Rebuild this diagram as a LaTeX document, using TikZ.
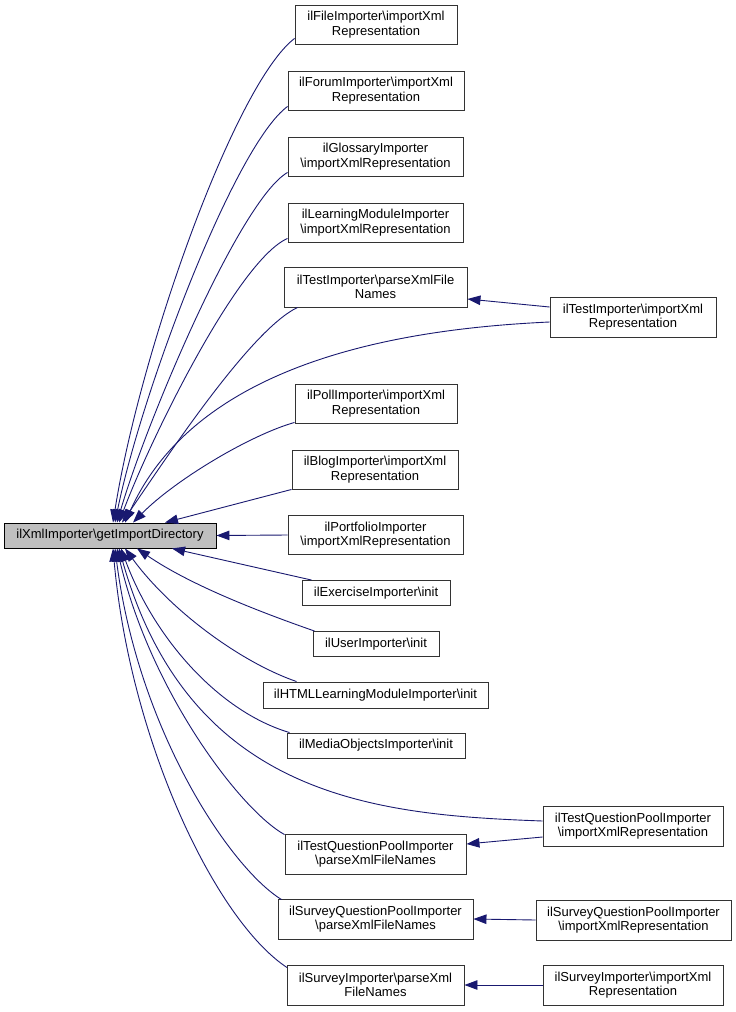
\documentclass[tikz,border=0pt]{standalone}
\usepackage{fontspec}
\setmainfont{Liberation Sans}
\usetikzlibrary{arrows.meta,calc}
\definecolor{edgec}{HTML}{191970}
\definecolor{mainfill}{HTML}{BFBFBF}
\newcommand{\bs}{\textbackslash}
\begin{document}
\begin{tikzpicture}[x=1pt,y=-1pt,
  box/.style={draw=black!80, line width=0.9pt, fill=white, inner sep=0pt, align=center,
    font=\fontsize{13}{14.5}\selectfont},
  mainbox/.style={box, fill=mainfill, draw=black},
  arr/.style={draw=edgec, line width=0.9pt, -{Triangle[length=13pt,width=9.5pt]}, edgec, fill=none}]
\useasboundingbox (0,0) rectangle (736,1012);
\fill[white] (0,0) rectangle (736,1012);
% nodes
\node[mainbox, minimum width=212, minimum height=25] (main) at (110,535.5) {ilXmlImporter\bs getImportDirectory};
\node[box, minimum width=162, minimum height=39] (file) at (376,24.5) {ilFileImporter\bs importXml\\Representation};
\node[box, minimum width=176, minimum height=39] (forum) at (376,90.5) {ilForumImporter\bs importXml\\Representation};
\node[box, minimum width=175, minimum height=39] (gloss) at (375.5,156.5) {ilGlossaryImporter\\\bs importXmlRepresentation};
\node[box, minimum width=175, minimum height=39] (lm) at (375.5,222.5) {ilLearningModuleImporter\\\bs importXmlRepresentation};
\node[box, minimum width=183, minimum height=40] (tparse) at (375.5,287) {ilTestImporter\bs parseXmlFile\\Names};
\node[box, minimum width=166, minimum height=40] (timport) at (633,317) {ilTestImporter\bs importXml\\Representation};
\node[box, minimum width=162, minimum height=39] (poll) at (376,403.5) {ilPollImporter\bs importXml\\Representation};
\node[box, minimum width=166, minimum height=39] (blog) at (375,469.5) {ilBlogImporter\bs importXml\\Representation};
\node[box, minimum width=175, minimum height=39] (portf) at (375.5,535) {ilPortfolioImporter\\\bs importXmlRepresentation};
\node[box, minimum width=148, minimum height=25] (exer) at (376,593) {ilExerciseImporter\bs init};
\node[box, minimum width=126, minimum height=25] (user) at (376,644) {ilUserImporter\bs init};
\node[box, minimum width=225, minimum height=26] (html) at (375.5,695) {ilHTMLLearningModuleImporter\bs init};
\node[box, minimum width=178, minimum height=25] (media) at (376,745.5) {ilMediaObjectsImporter\bs init};
\node[box, minimum width=180, minimum height=40] (tqpimp) at (633,826) {ilTestQuestionPoolImporter\\\bs importXmlRepresentation};
\node[box, minimum width=181, minimum height=40] (tqpparse) at (375.5,854) {ilTestQuestionPoolImporter\\\bs parseXmlFileNames};
\node[box, minimum width=195, minimum height=40] (sqpparse) at (375.5,919) {ilSurveyQuestionPoolImporter\\\bs parseXmlFileNames};
\node[box, minimum width=195, minimum height=40] (sqpimp) at (633.5,920) {ilSurveyQuestionPoolImporter\\\bs importXmlRepresentation};
\node[box, minimum width=177, minimum height=40] (sparse) at (375.5,985) {ilSurveyImporter\bs parseXml\\FileNames};
\node[box, minimum width=180, minimum height=40] (simp) at (633,985) {ilSurveyImporter\bs importXml\\Representation};
% edges (upper)
\draw[arr] ($(file.south west)+(0,-6)$) .. controls (235,84) and (140,351) .. ($(main.north)+(3,0)$);
\draw[arr] ($(forum.south west)+(0,-4)$) .. controls (235,145) and (142,390) .. ($(main.north)+(5,0)$);
\draw[arr] ($(gloss.south west)+(0,-4)$) .. controls (240,200) and (147,420) .. ($(main.north)+(7,0)$);
\draw[arr] ($(lm.south west)+(0,-4)$) .. controls (238,260) and (150,440) .. ($(main.north)+(9,0)$);
\draw[arr] ($(tparse.south west)+(14,0)$) .. controls (250,330) and (165,460) .. ($(main.north)+(12,0)$);
\draw[arr] ($(timport.west)+(0,5)$) .. controls (420,328) and (200,355) .. ($(main.north)+(15,0)$);
\draw[arr] ($(timport.west)+(0,-10)$) -- ($(tparse.east)+(0,12)$);
\draw[arr] ($(poll.south west)+(0,-1)$) .. controls (250,435) and (175,480) .. ($(main.north)+(23,0)$);
\draw[arr] (blog.south west) -- ($(main.north)+(55,0)$);
\draw[arr] (portf.west) -- (main.east);
% edges (lower)
\draw[arr] ($(exer.north west)+(10,0)$) -- ($(main.south)+(62,0)$);
\draw[arr] ($(user.north west)+(2,0)$) .. controls (260,612) and (190,585) .. ($(main.south)+(27,0)$);
\draw[arr] ($(html.north west)+(34,0)$) .. controls (240,662) and (170,610) .. ($(main.south)+(15,0)$);
\draw[arr] ($(media.north west)+(3,0)$) .. controls (220,712) and (155,640) .. ($(main.south)+(11,0)$);
\draw[arr] ($(tqpimp.west)+(0,-5)$) .. controls (380,815) and (190,800) .. ($(main.south)+(9,0)$);
\draw[arr] ($(tqpimp.west)+(0,11)$) -- ($(tqpparse.east)+(0,-10)$);
\draw[arr] ($(tqpparse.north west)+(0,1)$) .. controls (240,810) and (150,690) .. ($(main.south)+(7,0)$);
\draw[arr] ($(sqpparse.north west)+(4,1)$) .. controls (230,868) and (138,730) .. ($(main.south)+(5,0)$);
\draw[arr] (sqpimp.west) -- (sqpparse.east);
\draw[arr] ($(sparse.north west)+(0.5,3)$) .. controls (215,920) and (130,740) .. ($(main.south)+(3,0)$);
\draw[arr] (simp.west) -- (sparse.east);
\end{tikzpicture}
\end{document}
